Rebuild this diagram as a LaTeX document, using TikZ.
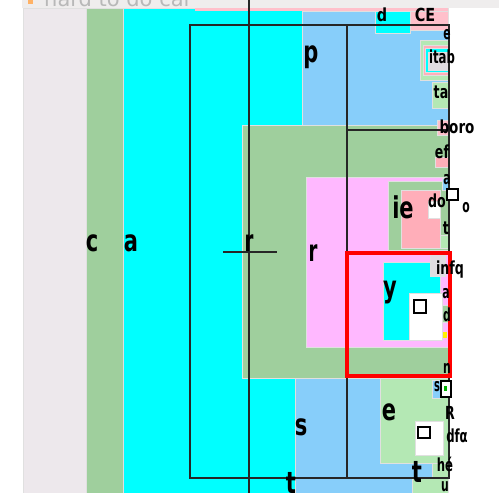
\documentclass[tikz,border=0pt]{standalone}
\usepackage{fontspec}
\setmainfont{DejaVu Sans}
\usepackage{graphicx}
\definecolor{lav}{HTML}{EDE8EC}
\definecolor{grn}{HTML}{9FCF9D}
\definecolor{cyn}{HTML}{00FFFF}
\definecolor{lblu}{HTML}{87CEFA}
\definecolor{mag}{HTML}{FFB8FF}
\definecolor{salm}{HTML}{FFAEB9}
\definecolor{lgrn}{HTML}{B4E8B4}
\definecolor{pnk}{HTML}{FFC0CB}
\definecolor{topg}{HTML}{EFEDED}
\definecolor{txtg}{HTML}{B8B8B8}
\definecolor{lgry}{HTML}{E0DCE0}
\begin{document}
\begin{tikzpicture}[x=1pt,y=-1pt,
  cell/.style={draw=black!12, line width=0.7pt},
  frame/.style={draw=black!85, line width=1.3pt},
  biglab/.style={inner sep=0pt, anchor=base, font=\bfseries\fontsize{30}{30}\selectfont},
  smlab/.style={inner sep=0pt, anchor=base, font=\bfseries\fontsize{18}{18}\selectfont},
  boxmark/.style={draw=black, line width=1.5pt, fill=white}]
\useasboundingbox (0,0) rectangle (499,493);
\clip (0,0) rectangle (499,493);
\fill[white] (0,0) rectangle (499,493);
% top strip with clipped title
\fill[topg] (22,0) rectangle (499,8);
\fill[orange!60] (28,0) rectangle (33,4);
\node[inner sep=0pt, anchor=base west, text=txtg, font=\fontsize{21}{21}\selectfont] (title) at (44,6) {hard to do cal};
% big columns
\fill[lav, cell] (23,8) rectangle (86,493);
\fill[grn, cell] (86,8) rectangle (123,493);
\fill[cyn, cell] (123,8) rectangle (448,493);
\fill[pnk] (195,8) rectangle (448,11);
% p region
\fill[lblu, cell] (302,11) rectangle (448,125);
\fill[cyn, cell] (375,11) rectangle (410,33);
\fill[pnk, cell] (410,11) rectangle (448,30);
\fill[lgrn, cell] (420,40) rectangle (448,80);
\fill[salm, cell] (423,45) rectangle (448,75);
\fill[cyn, cell] (425,48) rectangle (448,72);
\fill[lgry, cell] (428,52) rectangle (448,70);
\fill[lgrn, cell] (432,82) rectangle (448,108);
% r outer (green)
\fill[grn, cell] (242,125) rectangle (448,378);
\fill[pnk, cell] (437,120) rectangle (448,135);
\fill[salm, cell] (435,157) rectangle (448,167);
% r inner (magenta)
\fill[mag, cell] (306,177) rectangle (448,347);
\fill[grn, cell] (388,181) rectangle (448,250);
\fill[salm, cell] (401,190) rectangle (440,248);
\fill[lgrn, cell] (440,235) rectangle (448,248);
\fill[white, cell] (428,201) rectangle (440,218);
\fill[lblu, cell] (442,178) rectangle (448,190);
% y region
\fill[cyn, cell] (383,262) rectangle (440,340);
\fill[white, cell] (409,293) rectangle (442,340);
\fill[lgry, cell] (430,252) rectangle (445,276);
\fill[grn, cell] (442,305) rectangle (448,322);
\fill[yellow] (443,332) rectangle (447,338);
% s region
\fill[lblu, cell] (295,378) rectangle (448,493);
\fill[lgrn, cell] (380,378) rectangle (448,463);
\fill[white, cell] (415,421) rectangle (443,455);
\fill[lgrn, cell] (432,463) rectangle (448,478);
\fill[lgrn, cell] (412,478) rectangle (448,493);
\fill[lblu, cell] (432,380) rectangle (440,398);
% black frame lines
\draw[frame] (249,0) -- (249,493);
\draw[frame] (190,25) rectangle (449,478);
\draw[frame] (347,25) -- (347,478);
\draw[frame] (347,130) -- (449,130);
\draw[frame] (223,252) -- (277,252);
% red highlight
\draw[red, line width=3.5pt] (347,253) rectangle (450,376);
% missing-glyph boxes
\draw[boxmark] (414,300) rectangle (426,313);
\draw[boxmark] (418,427) rectangle (430,438);
\draw[boxmark] (447,189) rectangle (458,200);
\draw[boxmark] (441,381) rectangle (451,397);
\fill[green!70!black] (444,386) rectangle (447,391);
% big labels
\node[biglab] (lc) at (92,251) {\scalebox{0.7}[1]{c}};
\node[biglab] (la) at (131,251) {\scalebox{0.7}[1]{a}};
\node[biglab] (lr1) at (249,251) {\scalebox{0.6}[1]{r}};
\node[biglab] (lr2) at (313,261) {\scalebox{0.6}[1]{r}};
\node[biglab] (lp) at (311,62) {\scalebox{0.7}[1]{p}};
\node[biglab] (lie) at (403,218) {\scalebox{0.7}[1]{ie}};
\node[biglab] (ly) at (390,297) {\scalebox{0.7}[1]{y}};
\node[biglab] (ls) at (301,435) {\scalebox{0.7}[1]{s}};
\node[biglab] (le) at (389,420) {\scalebox{0.7}[1]{e}};
\node[biglab] (lt1) at (291,493) {\scalebox{0.7}[1]{t}};
\node[biglab] (lt2) at (417,482) {\scalebox{0.7}[1]{t}};
% small labels
\node[smlab] (sd) at (382,21) {\scalebox{0.8}[1]{d}};
\node[smlab] (sce) at (425,21) {\scalebox{0.8}[1]{CE}};
\node[smlab] (se) at (447,39) {\scalebox{0.6}[1]{e}};
\node[smlab] (sita) at (442,63) {\scalebox{0.65}[1]{itab}};
\node[smlab] (sta) at (441,98) {\scalebox{0.7}[1]{ta}};
\node[smlab] (sboro) at (457,133) {\scalebox{0.75}[1]{boro}};
\node[smlab] (sef) at (442,158) {\scalebox{0.7}[1]{ef}};
\node[smlab] (sa1) at (447,184) {\scalebox{0.6}[1]{a}};
\node[smlab] (sdo) at (437,207) {\scalebox{0.7}[1]{do}};
\node[smlab] (so) at (466,212) {\scalebox{0.6}[1]{o}};
\node[smlab] (st) at (446,234) {\scalebox{0.7}[1]{t}};
\node[smlab] (sinf) at (450,274) {\scalebox{0.7}[1]{infq}};
\node[smlab] (sa2) at (446,298) {\scalebox{0.6}[1]{a}};
\node[smlab] (sd2) at (447,321) {\scalebox{0.6}[1]{d}};
\node[smlab] (sn) at (447,373) {\scalebox{0.6}[1]{n}};
\node[smlab] (ss) at (437,391) {\scalebox{0.55}[1]{s}};
\node[smlab] (sR) at (450,419) {\scalebox{0.7}[1]{R}};
\node[smlab] (sdf) at (457,442) {\scalebox{0.65}[1]{dfα}};
\node[smlab] (she) at (445,471) {\scalebox{0.65}[1]{hé}};
\node[smlab] (su) at (445,491) {\scalebox{0.6}[1]{u}};
\end{tikzpicture}
\end{document}
